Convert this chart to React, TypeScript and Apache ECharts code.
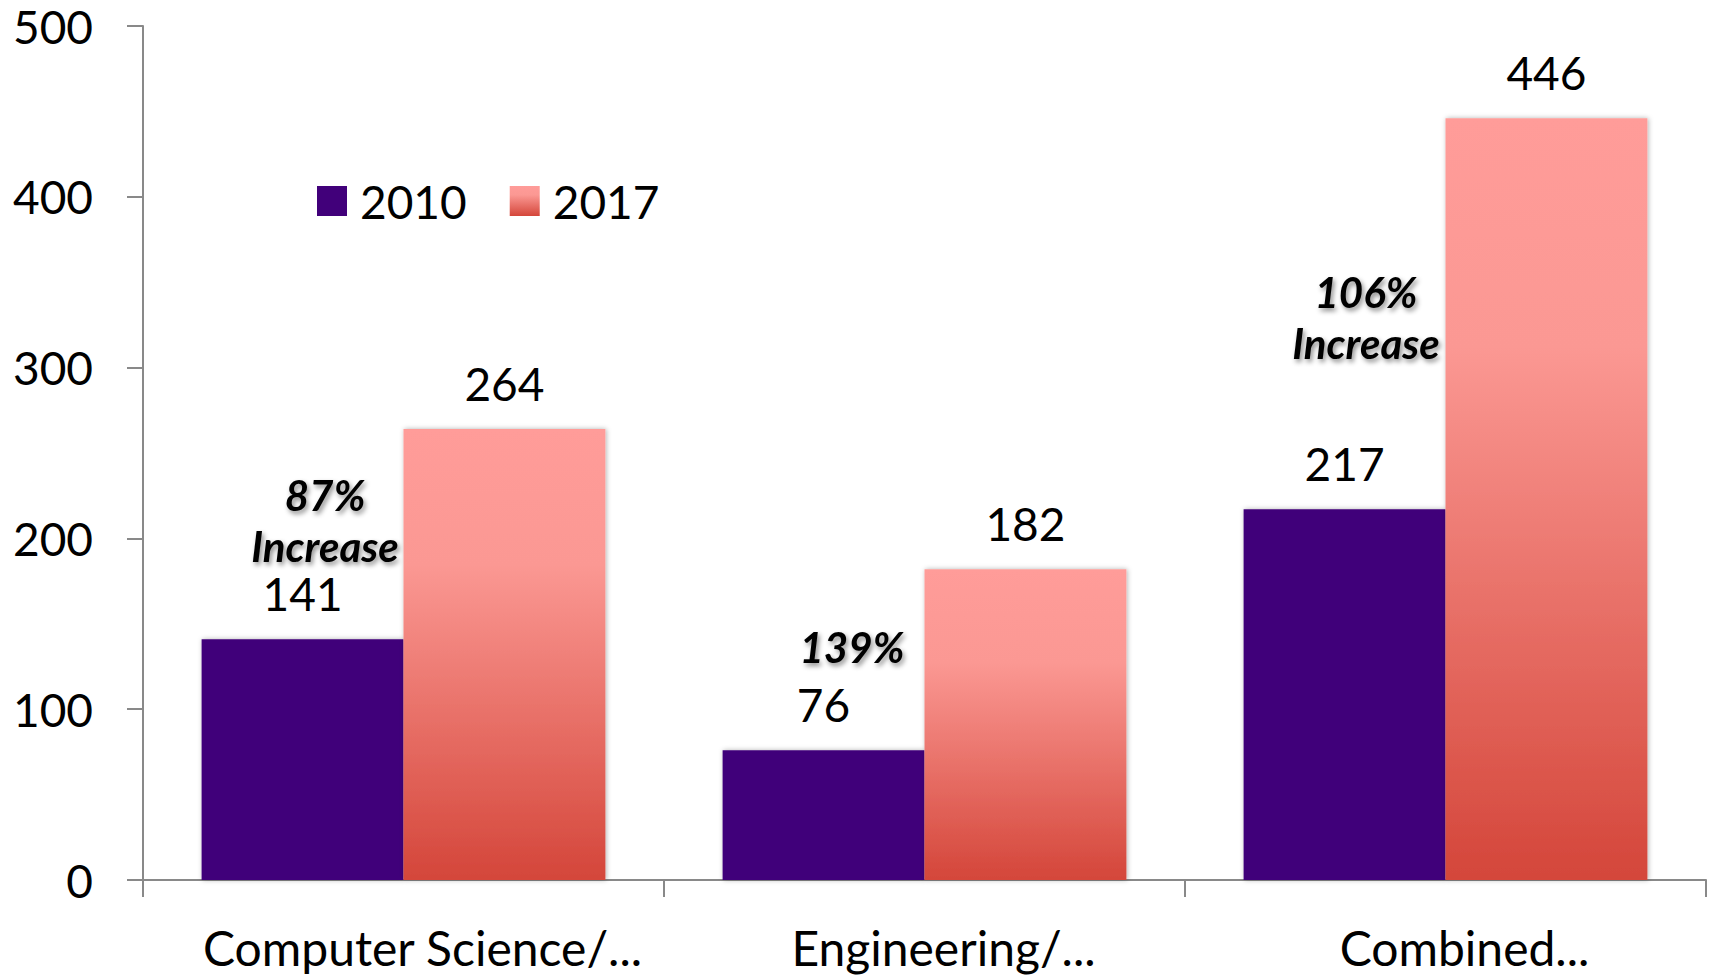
import React, { useEffect, useRef } from "react";
import * as echarts from "echarts";

const categories = ["Computer Science/...", "Engineering/...", "Combined..."];
const values2010 = [141, 76, 217];
const values2017 = [264, 182, 446];
const yTicks = { min: 0, max: 500, interval: 100 };
const annotations = [
  { lines: ["87%", "Increase"], x: 325, y: 495 },
  { lines: ["139%"], x: 852, y: 647 },
  { lines: ["106%", "Increase"], x: 1366, y: 292 },
];

const FONT = "Lato, 'Open Sans', sans-serif";

export default function App() {
  const ref = useRef<HTMLDivElement>(null);
  useEffect(() => {
    if (!ref.current) return;
    const chart = echarts.init(ref.current, undefined, { renderer: "svg" });
    const gradient = new echarts.graphic.LinearGradient(0, 0, 0, 1, [
      { offset: 0, color: "#FF9C99" },
      { offset: 0.3, color: "#FB9893" },
      { offset: 1, color: "#D4463A" },
    ]);
    const graphics: any[] = [];
    annotations.forEach((a) => {
      a.lines.forEach((t, i) => {
        graphics.push({
          type: "text",
          x: a.x,
          y: a.y + i * 51,
          style: {
            text: t,
            font: `italic bold 42px ${FONT}`,
            fill: "#000",
            align: "center",
            verticalAlign: "middle",
            textShadowColor: "rgba(0,0,0,0.45)",
            textShadowBlur: 5,
            textShadowOffsetX: 2,
            textShadowOffsetY: 3,
          },
        });
      });
    });
    const labelStyle = {
      show: true,
      position: "top",
      distance: 23,
      fontSize: 46,
      fontFamily: FONT,
      color: "#000",
    };
    chart.setOption({
      animation: false,
      backgroundColor: "#fff",
      grid: { left: 143, right: 5, top: 26, bottom: 97, containLabel: false },
      legend: {
        left: 317,
        top: 178,
        padding: 0,
        itemWidth: 30,
        itemHeight: 30,
        itemGap: 43,
        icon: "rect",
        textStyle: { fontSize: 46, fontFamily: FONT, color: "#000", padding: [0, 0, 0, 8] },
        data: ["2010", "2017"],
      },
      xAxis: {
        type: "category",
        data: categories,
        axisLine: { lineStyle: { color: "#898989", width: 2 } },
        axisTick: { show: true, interval: 0, length: 17, lineStyle: { color: "#898989", width: 2 } },
        axisLabel: {
          interval: 0,
          hideOverlap: false,
          fontSize: 48,
          fontFamily: FONT,
          color: "#000",
          margin: 43,
          padding: [0, 0, 0, 38],
        },
      },
      yAxis: {
        type: "value",
        min: yTicks.min,
        max: yTicks.max,
        interval: yTicks.interval,
        splitLine: { show: false },
        axisLine: { show: true, lineStyle: { color: "#898989", width: 2 } },
        axisTick: { show: true, length: 16, lineStyle: { color: "#898989", width: 2 } },
        axisLabel: { fontSize: 46, fontFamily: FONT, color: "#000", margin: 50 },
      },
      series: [
        {
          name: "2010",
          type: "bar",
          data: values2010,
          barGap: "0%",
          barCategoryGap: "22.5%",
          itemStyle: {
            color: "#41007A",
            shadowColor: "rgba(0,0,0,0.3)",
            shadowBlur: 5,
            shadowOffsetX: 1,
          },
          label: labelStyle,
        },
        {
          name: "2017",
          type: "bar",
          data: values2017,
          barGap: "0%",
          barCategoryGap: "22.5%",
          itemStyle: {
            color: gradient,
            shadowColor: "rgba(0,0,0,0.3)",
            shadowBlur: 5,
            shadowOffsetX: 1,
          },
          label: labelStyle,
        },
      ],
      graphic: graphics,
    });
    return () => chart.dispose();
  }, []);
  return (
    <div
      ref={ref}
      style={{ position: "fixed", left: 0, top: 0, width: 1711, height: 977 }}
    />
  );
}
